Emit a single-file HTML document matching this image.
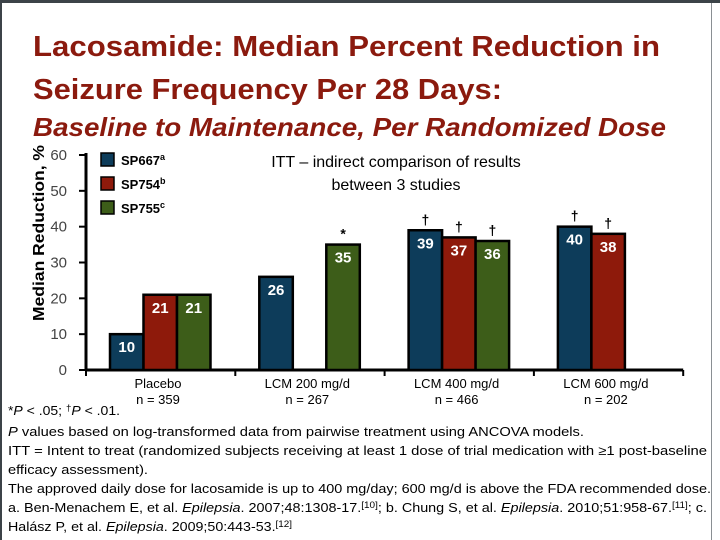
<!DOCTYPE html>
<html><head><meta charset="utf-8"><style>
html,body{margin:0;padding:0;background:#fff}
svg{display:block;font-family:"Liberation Sans",sans-serif}
</style></head><body>
<svg width="720" height="540" viewBox="0 0 720 540" id="chart">
<rect x="0" y="0" width="720" height="3" fill="#3c4348"/>
<rect x="0" y="0" width="2" height="540" fill="#3c4348"/>
<rect x="711" y="3" width="1" height="537" fill="#8a8f93"/>
<g fill="#8b1a0e" font-weight="bold">
<text x="33" y="56" font-size="29" textLength="627" lengthAdjust="spacingAndGlyphs">Lacosamide: Median Percent Reduction in</text>
<text x="33" y="99" font-size="29" textLength="469" lengthAdjust="spacingAndGlyphs">Seizure Frequency Per 28 Days:</text>
<text x="33" y="136" font-size="26" font-style="italic" textLength="633" lengthAdjust="spacingAndGlyphs">Baseline to Maintenance, Per Randomized Dose</text>
</g>
<g id="plot"></g>
<g font-size="13" fill="#000">
<text x="8" y="415" textLength="112" lengthAdjust="spacingAndGlyphs">*<tspan font-style="italic">P</tspan> &lt; .05; <tspan font-size="9" dy="-4">†</tspan><tspan dy="4" font-style="italic">P</tspan> &lt; .01.</text>
<text x="8" y="436" textLength="576" lengthAdjust="spacingAndGlyphs"><tspan font-style="italic">P</tspan> values based on log-transformed data from pairwise treatment using ANCOVA models.</text>
<text x="8" y="455" textLength="699" lengthAdjust="spacingAndGlyphs">ITT = Intent to treat (randomized subjects receiving at least 1 dose of trial medication with ≥1 post-baseline</text>
<text x="8" y="474" textLength="140" lengthAdjust="spacingAndGlyphs">efficacy assessment).</text>
<text x="8" y="493" textLength="703" lengthAdjust="spacingAndGlyphs">The approved daily dose for lacosamide is up to 400 mg/day; 600 mg/d is above the FDA recommended dose.</text>
<text x="8" y="512" textLength="699" lengthAdjust="spacingAndGlyphs">a. Ben-Menachem E, et al. <tspan font-style="italic">Epilepsia</tspan>. 2007;48:1308-17.<tspan font-size="9" dy="-4">[10]</tspan><tspan dy="4">; b. Chung S, et al. </tspan><tspan font-style="italic">Epilepsia</tspan>. 2010;51:958-67.<tspan font-size="9" dy="-4">[11]</tspan><tspan dy="4">; c.</tspan></text>
<text x="8" y="531" textLength="284" lengthAdjust="spacingAndGlyphs">Halász P, et al. <tspan font-style="italic">Epilepsia</tspan>. 2009;50:443-53.<tspan font-size="9" dy="-4">[12]</tspan></text>
</g>
</svg>
<script>
const categories = ["Placebo", "LCM 200 mg/d", "LCM 400 mg/d", "LCM 600 mg/d"];
const nLabels = ["n = 359", "n = 267", "n = 466", "n = 202"];
const seriesNames = ["SP667", "SP754", "SP755"];
const seriesSup = ["a", "b", "c"];
const sp667 = [10, 26, 39, 40];
const sp754 = [21, null, 37, 38];
const sp755 = [21, 35, 36, null];
const sigMarks = [["", "", ""], ["", "", "*"], ["†", "†", "†"], ["†", "†", ""]];
const yTicks = [0, 10, 20, 30, 40, 50, 60];

const NS = "http://www.w3.org/2000/svg";
const plot = document.getElementById("plot");
const colors = ["#0d3c5a", "#8e1a0b", "#3d5d19"];
const series = [sp667, sp754, sp755];
const x0 = 86, groupW = 149.3, barOff = 24, barW = 33.5;
const yScale = v => 370 - v * (215 / 60);
const xGroup = i => x0 + i * groupW;
function mk(tag, attrs, parent) {
  const e = document.createElementNS(NS, tag);
  for (const k in attrs) e.setAttribute(k, attrs[k]);
  (parent || plot).appendChild(e);
  return e;
}
const ax = mk("line", {x1: x0, y1: yScale(60) - 2, x2: x0, y2: yScale(0) + 1, stroke: "#000", "stroke-width": 3});


yTicks.forEach(t => {
  const tk = mk("line", {x1: x0 - 7, y1: yScale(t), x2: x0, y2: yScale(t), stroke: "#000", "stroke-width": 2});
  
  
  const lb = mk("text", {x: 67, y: yScale(t) + 5, "font-size": 15, "text-anchor": "end", fill: "#444"});
  lb.textContent = t;
  
  
});
const yt = mk("text", {transform: "translate(44,233) rotate(-90)", "font-size": 16, "font-weight": "bold", "text-anchor": "middle", fill: "#000", textLength: 176, lengthAdjust: "spacingAndGlyphs"});
yt.textContent = "Median Reduction, %";


const xa = mk("line", {x1: x0, y1: yScale(0), x2: xGroup(4), y2: yScale(0), stroke: "#000", "stroke-width": 3});


for (let i = 0; i <= 4; i++) {
  const tk = mk("line", {x1: xGroup(i), y1: yScale(0), x2: xGroup(i), y2: yScale(0) + 6, stroke: "#000", "stroke-width": 2});
  
  
}
categories.forEach((c, i) => {
  const cx = xGroup(i) + 72;
  const t1 = mk("text", {x: cx, y: 388, "font-size": 13, "text-anchor": "middle", fill: "#000"});
  t1.textContent = c;
  
  
  const t2 = mk("text", {x: cx, y: 404, "font-size": 13, "text-anchor": "middle", fill: "#000"});
  t2.textContent = nLabels[i];
  
  
});
series.forEach((s, si) => {
  s.forEach((v, i) => {
    if (v === null) return;
    const bx = xGroup(i) + barOff + si * barW;
    const by = yScale(v);
    const r = mk("rect", {x: bx, y: by, width: barW, height: yScale(0) - by, fill: colors[si], stroke: "#000", "stroke-width": 2.5});
    
    
    const lb = mk("text", {x: bx + barW / 2, y: by + 18, "font-size": 15, "font-weight": "bold", "text-anchor": "middle", fill: "#fff"});
    lb.textContent = v;
    
    
    const m = sigMarks[i][si];
    if (m) {
      const sm = mk("text", {x: bx + barW / 2, y: by - 6, "font-size": 14, "font-weight": "bold", "text-anchor": "middle", fill: "#000"});
      sm.textContent = m;
      
      
    }
  });
});
seriesNames.forEach((n, si) => {
  const ly = 153 + si * 24;
  const sw = mk("rect", {x: 101, y: ly, width: 13, height: 13, fill: colors[si], stroke: "#000", "stroke-width": 1.5});
  
  
  const t = mk("text", {x: 121, y: ly + 12, "font-size": 13, "font-weight": "bold", fill: "#000"});
  t.textContent = n;
  const sup = document.createElementNS(NS, "tspan");
  sup.setAttribute("font-size", "9");
  sup.setAttribute("dy", "-5");
  sup.textContent = seriesSup[si];
  t.appendChild(sup);
  
  
});
const n1 = mk("text", {x: 396, y: 167, "font-size": 16, "text-anchor": "middle", fill: "#000"});
n1.textContent = "ITT – indirect comparison of results";


const n2 = mk("text", {x: 396, y: 190, "font-size": 16, "text-anchor": "middle", fill: "#000"});
n2.textContent = "between 3 studies";


</script>
</body></html>
